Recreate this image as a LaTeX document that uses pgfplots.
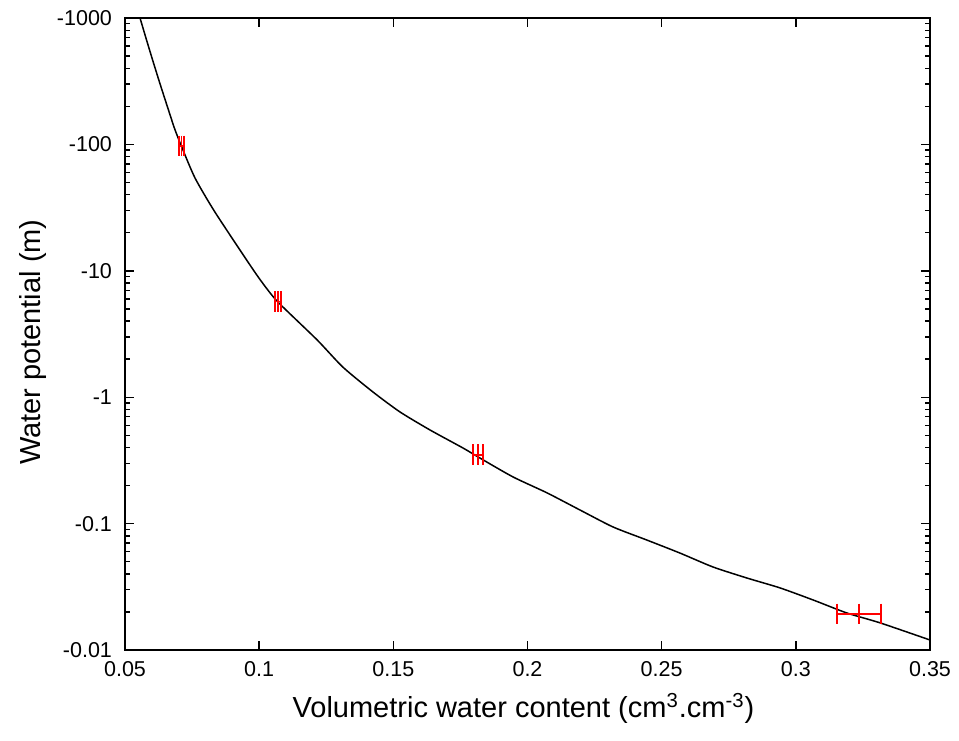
\documentclass[border=0pt]{standalone}
\usepackage{pgfplots}
\pgfplotsset{compat=1.18}
\usepackage{fontspec}
\setmainfont{Liberation Sans}
\begin{document}
\begin{tikzpicture}
\useasboundingbox (-62.5pt,-45pt) rectangle (417pt,325pt);
\begin{axis}[
  at={(0,0)}, anchor=south west,
  scale only axis, width=402.5pt, height=316pt,
  xmin=0.05, xmax=0.35,
  ymode=log, ymin=0.01, ymax=1000,
  xtick={0.05,0.1,0.15,0.2,0.25,0.3,0.35},
  xticklabels={0.05,0.1,0.15,0.2,0.25,0.3,0.35},
  ytick={0.01,0.1,1,10,100,1000},
  yticklabels={-0.01,-0.1,-1,-10,-100,-1000},
  tick align=inside,
  xtick pos=both, ytick pos=both,
  major tick length=4.5pt, minor tick length=2.6pt,
  every tick/.style={black, line width=0.7pt},
  axis line style={black, line width=0.75pt},
  /pgf/number format/assume math mode=true,
  tick label style={font=\fontsize{10.75}{12}\selectfont},
  yticklabel style={xshift=-3pt},
  xticklabel style={yshift=-2pt},
  label style={font=\fontsize{14.5}{17}\selectfont},
  xlabel={Volumetric water content (cm\textsuperscript{3}.cm\textsuperscript{-3})},
  ylabel={Water potential (m)},
  xlabel style={at={(axis description cs:0.495,-0.092)}, anchor=center},
  ylabel style={at={(axis description cs:-0.114,0.487)}, anchor=center},
  clip=true,
]
\addplot[black, line width=0.75pt, mark=none, smooth, tension=0.4] coordinates {
(0.0556,1000) (0.0580,673) (0.0605,450) (0.0630,304) (0.0660,193)
(0.0685,133) (0.0711,96) (0.0761,54.2) (0.0835,29.2) (0.0966,11.1)
(0.1014,7.94) (0.1070,5.66) (0.1216,2.84) (0.1312,1.73) (0.1424,1.10)
(0.1525,0.764) (0.1637,0.55) (0.1760,0.396) (0.1823,0.330) (0.1946,0.234)
(0.2073,0.175) (0.2196,0.128) (0.2319,0.094) (0.2445,0.0741) (0.2568,0.0585)
(0.2691,0.0454) (0.2818,0.0371) (0.2941,0.0310) (0.3064,0.0249) (0.3191,0.0196)
(0.3314,0.0164) (0.3500,0.0120)
};
% horizontal error bar lines (x - err, x + err)
\addplot[red, line width=0.75pt, mark=none] coordinates {(0.0702,97) (0.0720,97)};
\addplot[red, line width=0.75pt, mark=none] coordinates {(0.1059,5.7) (0.1081,5.7)};
\addplot[red, line width=0.75pt, mark=none] coordinates {(0.1797,0.35) (0.1835,0.35)};
\addplot[red, line width=0.75pt, mark=none] coordinates {(0.3154,0.0193) (0.3318,0.0193)};
% caps and centre marks
\addplot[red, only marks, mark=|, mark size=5.2pt, mark options={line width=0.75pt}] coordinates {
(0.0702,97) (0.0711,97) (0.0720,97)
(0.1059,5.7) (0.1070,5.7) (0.1081,5.7)
(0.1797,0.35) (0.1816,0.35) (0.1835,0.35)
(0.3154,0.0193) (0.3236,0.0193) (0.3318,0.0193)
};
\end{axis}
\end{tikzpicture}
\end{document}
